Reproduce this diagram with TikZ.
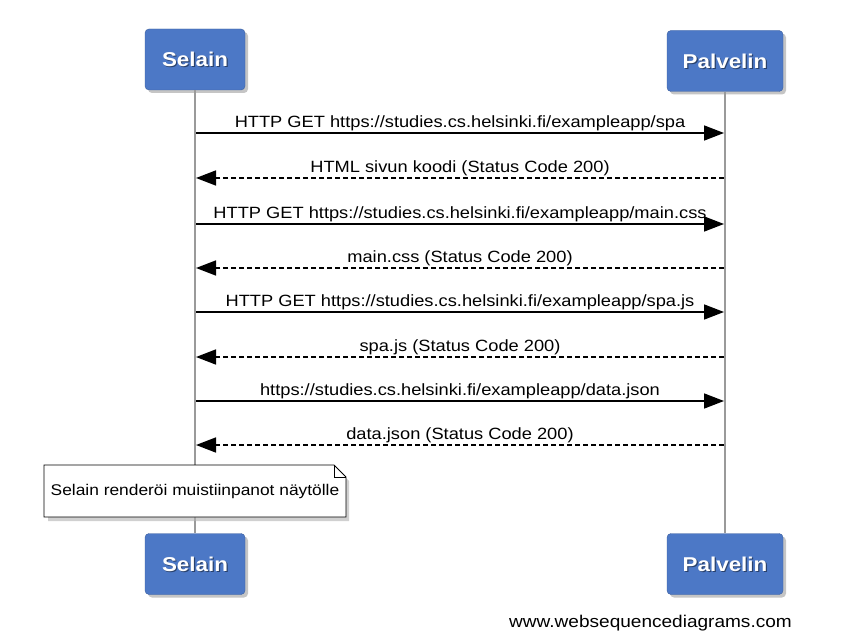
\documentclass[tikz,border=0pt]{standalone}
\usepackage{fontspec}
\setmainfont[FakeStretch=1.12]{Liberation Sans}
\usetikzlibrary{arrows.meta,shadows}
\definecolor{boxblue}{HTML}{4C78C6}
\definecolor{lifegray}{HTML}{9A9A9A}
\begin{document}
\begin{tikzpicture}[x=1pt,y=-1pt,
  actor/.style={draw=boxblue!80!black,fill=boxblue,rounded corners=4pt,minimum width=100pt,minimum height=61pt,
    drop shadow={shadow xshift=3pt,shadow yshift=-3pt,opacity=0.45}},
  actortext/.style={text=white,font=\fontsize{20}{24}\selectfont\bfseries},
  actorshadow/.style={text=black,opacity=0.45,font=\fontsize{20}{24}\selectfont\bfseries},
  lifeline/.style={draw=lifegray,line width=1.6pt},
  msg/.style={line width=1.6pt,-{Triangle[length=20pt,width=15pt]}},
  reply/.style={msg,dashed,dash pattern=on 5pt off 3pt},
  lbl/.style={font=\fontsize{16.3}{19}\selectfont,inner sep=0pt,anchor=base}]
\useasboundingbox (0,0) rectangle (864,636);
\fill[white] (0,0) rectangle (864,636);
\foreach \n/\x/\y/\w/\t in {s1/195/59.5/100/Selain, p1/725/61/116/Palvelin, s2/195/564/100/Selain, p2/725/564/116/Palvelin}{
  \node[actor,minimum width=\w pt] (\n) at (\x,\y) {};
  \node[actorshadow] (\n sh) at (\x+1.2,\y+1.2) {\t};
  \node[actortext] (\n t) at (\x,\y) {\t};
}
\draw[lifeline] (s1.south) -- (s2.north);
\draw[lifeline] (p1.south) -- (p2.north);
\foreach \y/\t/\d in {133/{HTTP GET https://studies.cs.helsinki.fi/exampleapp/spa}/r,
  178/{HTML sivun koodi (Status Code 200)}/l,
  224/{HTTP GET https://studies.cs.helsinki.fi/exampleapp/main.css}/r,
  268/{main.css (Status Code 200)}/l,
  312/{HTTP GET https://studies.cs.helsinki.fi/exampleapp/spa.js}/r,
  357/{spa.js (Status Code 200)}/l,
  401/{https://studies.cs.helsinki.fi/exampleapp/data.json}/r,
  445/{data.json (Status Code 200)}/l}{
  \coordinate (a\y) at (196,\y);
  \coordinate (b\y) at (724,\y);
  \node[lbl] (t\y) at (460,\y-5.5) {\t};
  \if\d r
    \draw[msg] (a\y) -- (b\y);
  \else
    \draw[reply] (b\y) -- (a\y);
  \fi
}
\fill[black!30,opacity=0.6] (48,469) -- (337,469) -- (349,481) -- (349,521) -- (48,521) -- cycle;
\draw[fill=white,line width=0.8pt] (44,465) -- (334,465) -- (346,477) -- (346,517) -- (44,517) -- cycle;
\draw[line width=0.8pt] (334,465) -- (334,477) -- (346,477);
\node[font=\fontsize{15.5}{18}\selectfont] (note) at (195,491) {Selain renderöi muistiinpanot näytölle};
\node[font=\fontsize{17}{20}\selectfont,anchor=base east,inner sep=0pt] (wsd) at (792,627) {www.websequencediagrams.com};
\end{tikzpicture}
\end{document}
